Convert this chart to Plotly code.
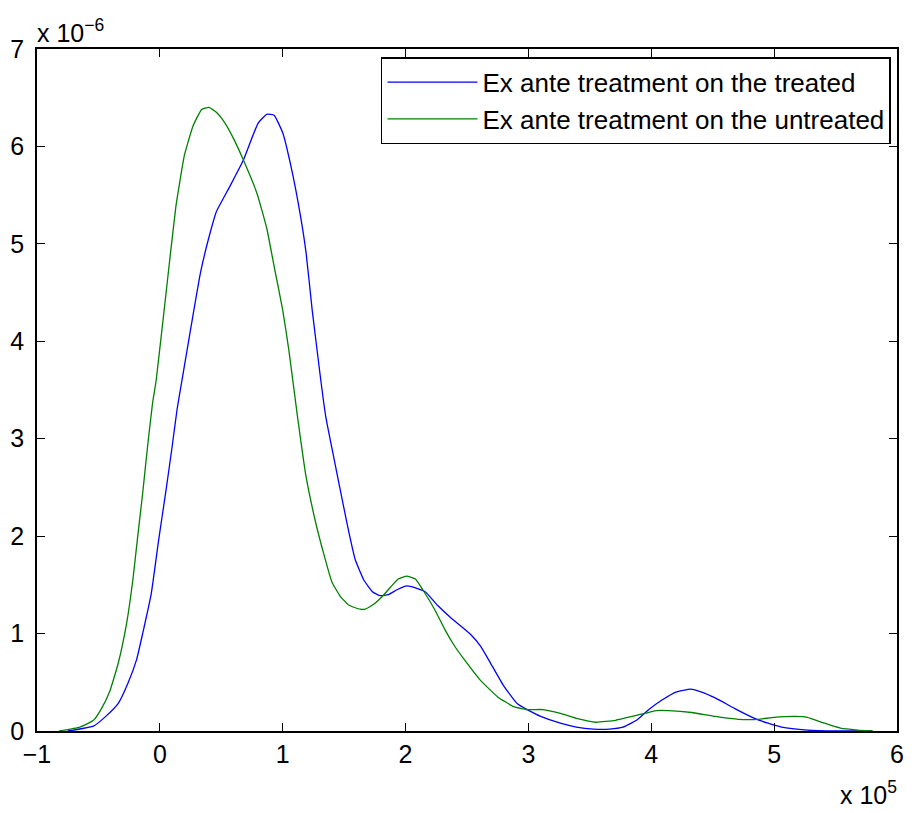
import plotly.graph_objects as go

# x in units of 1e5, y in units of 1e-6
treated_x = [-0.75, -0.70, -0.54, -0.44, -0.34, -0.26, -0.19, -0.14, -0.07, -0.01, 0.05, 0.10, 0.14, 0.18,
             0.33, 0.40, 0.46, 0.57, 0.68, 0.80, 0.87, 0.93, 1.00, 1.07, 1.14, 1.19, 1.24, 1.31, 1.35, 1.42,
             1.49, 1.54, 1.59, 1.66, 1.73, 1.79, 1.86, 1.93, 2.01, 2.08, 2.16, 2.26, 2.37, 2.53, 2.61, 2.69,
             2.80, 2.91, 2.99, 3.10, 3.26, 3.39, 3.53, 3.66, 3.77, 3.88, 3.98, 4.09, 4.20, 4.32, 4.41, 4.52,
             4.68, 4.84, 4.95, 5.06, 5.27, 5.50, 5.80]
treated_y = [0.00, 0.01, 0.05, 0.15, 0.28, 0.49, 0.73, 1.00, 1.41, 1.96, 2.47, 2.92, 3.30, 3.60,
             4.70, 5.07, 5.33, 5.59, 5.86, 6.24, 6.33, 6.32, 6.14, 5.78, 5.32, 4.91, 4.32, 3.60, 3.23, 2.78,
             2.34, 2.03, 1.76, 1.55, 1.43, 1.39, 1.40, 1.45, 1.49, 1.47, 1.43, 1.29, 1.16, 0.99, 0.87, 0.70,
             0.46, 0.28, 0.22, 0.15, 0.08, 0.04, 0.02, 0.02, 0.04, 0.11, 0.22, 0.32, 0.40, 0.43, 0.40, 0.34,
             0.23, 0.13, 0.08, 0.04, 0.01, 0.00, 0.00]

untreated_x = [-0.82, -0.65, -0.54, -0.48, -0.41, -0.34, -0.27, -0.22, -0.18, -0.14, -0.10, -0.06, -0.03,
               0.05, 0.13, 0.20, 0.27, 0.34, 0.40, 0.46, 0.53, 0.60, 0.68, 0.79, 0.87, 0.93, 1.00, 1.05,
               1.12, 1.19, 1.27, 1.34, 1.40, 1.47, 1.54, 1.63, 1.67, 1.74, 1.81, 1.88, 1.94, 2.01, 2.08,
               2.14, 2.24, 2.32, 2.40, 2.48, 2.61, 2.75, 2.88, 2.99, 3.12, 3.26, 3.39, 3.55, 3.71, 3.88,
               4.04, 4.14, 4.33, 4.52, 4.71, 4.87, 5.00, 5.17, 5.27, 5.41, 5.54, 5.68, 5.80]
untreated_y = [0.00, 0.04, 0.11, 0.22, 0.40, 0.69, 1.11, 1.55, 2.00, 2.44, 2.92, 3.36, 3.60,
               4.49, 5.38, 5.91, 6.21, 6.38, 6.40, 6.35, 6.24, 6.08, 5.86, 5.52, 5.16, 4.77, 4.32, 3.91,
               3.23, 2.61, 2.13, 1.79, 1.53, 1.38, 1.29, 1.25, 1.25, 1.30, 1.38, 1.48, 1.56, 1.59, 1.56,
               1.45, 1.24, 1.04, 0.87, 0.73, 0.52, 0.35, 0.25, 0.22, 0.22, 0.18, 0.13, 0.09, 0.11, 0.16,
               0.21, 0.21, 0.19, 0.15, 0.12, 0.12, 0.14, 0.15, 0.14, 0.08, 0.03, 0.01, 0.00]

x_ticks = [-1, 0, 1, 2, 3, 4, 5, 6]
y_ticks = [0, 1, 2, 3, 4, 5, 6, 7]

FONT = "Liberation Sans, Arial, Helvetica, sans-serif"
FS = 25
FS_LEG = 26

fig = go.Figure()
fig.add_trace(go.Scatter(x=treated_x, y=treated_y, mode="lines",
                         name="Ex ante treatment on the treated",
                         line=dict(color="#0000FF", width=1.3, shape="spline", smoothing=0.4)))
fig.add_trace(go.Scatter(x=untreated_x, y=untreated_y, mode="lines",
                         name="Ex ante treatment on the untreated",
                         line=dict(color="#008000", width=1.3, shape="spline", smoothing=0.4)))

axis_common = dict(showgrid=False, zeroline=False, showline=True, linecolor="black", linewidth=1.5,
                   mirror="allticks", ticks="inside", ticklen=8, tickwidth=1.2, tickcolor="black",
                   tickfont=dict(family=FONT, size=FS, color="black"))

fig.update_xaxes(range=[-1, 6], tickvals=x_ticks, **axis_common)
fig.update_yaxes(range=[0, 7], tickvals=y_ticks, ticklabelstandoff=6, **axis_common)

fig.add_annotation(xref="paper", yref="paper", x=0, y=1, xanchor="left", yanchor="bottom",
                   text="x 10<sup>\u22126</sup>", showarrow=False, yshift=0, xshift=-2,
                   font=dict(family=FONT, size=FS, color="black"))
fig.add_annotation(xref="paper", yref="paper", x=1, y=0, xanchor="right", yanchor="top",
                   text="x 10<sup>5</sup>", showarrow=False, yshift=-44, xshift=2,
                   font=dict(family=FONT, size=FS, color="black"))

fig.update_layout(
    width=914, height=813,
    margin=dict(l=35, r=10, t=49, b=82),
    paper_bgcolor="white", plot_bgcolor="white",
    showlegend=True,
    legend=dict(x=0.993, y=0.988, xanchor="right", yanchor="top",
                bgcolor="white", bordercolor="black", borderwidth=1.5,
                font=dict(family=FONT, size=FS_LEG, color="black"),
                itemwidth=90, tracegroupgap=0),
)

fig.write_html("out.html")
